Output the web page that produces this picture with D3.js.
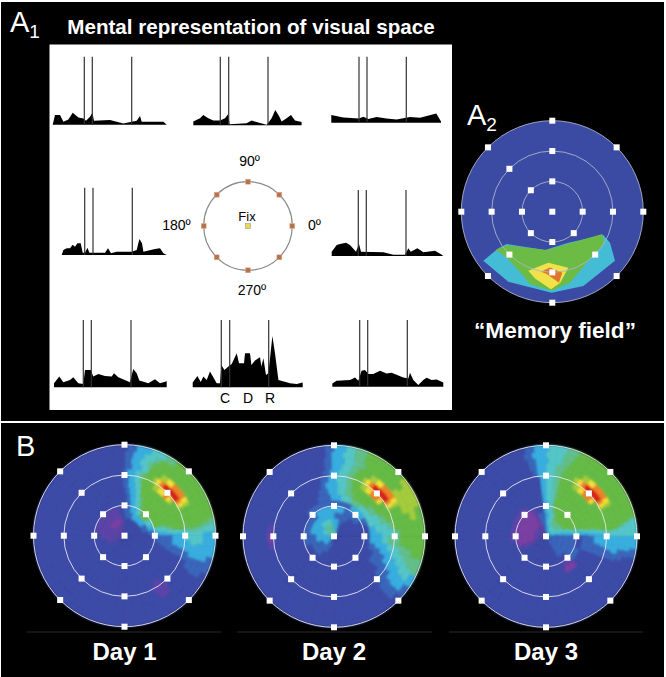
<!DOCTYPE html>
<html>
<head>
<meta charset="utf-8">
<script src="https://cdn.jsdelivr.net/npm/d3@7.9.0/dist/d3.min.js"></script>
<style>
  body { margin: 0; background: #fff; }
  svg { display: block; }
  text { font-family: "Liberation Sans", Arial, sans-serif; }
</style>
</head>
<body>
<svg id="fig" width="666" height="677"></svg>
<script>
// spike density traces, [time, rate], one list per target location
let trace135 = [[0,0],[2.3,9.7],[7.3,9.7],[10.7,3],[15.7,5.3],[20,12],[25.7,7.3],[30.7,6.3],[33.3,4],[37.3,8],[39.7,12],[41.3,4],[57.3,4.7],[70.7,1.3],[79,3],[84,4],[87.3,8.7],[89,3],[110.7,3],[114,0]];
let trace90 = [[0,3.7],[6.7,7],[10,10.3],[15,7],[20,4.7],[26.7,4.7],[31.7,7],[35,11.3],[36.3,1],[53.3,2],[58.3,4.7],[65,2.7],[73.3,0.5],[76,3.7],[78.3,7],[82,15.3],[86,8.7],[88.3,3.7],[93.3,7],[97.7,10.3],[101.7,4.7],[108.3,3.3]];
let trace45 = [[0,7.7],[12,5.3],[27.7,4.3],[32,6],[37,3.7],[45.3,5.7],[55.3,4.3],[65.3,3.3],[78.7,5.7],[88.7,5],[105,9.3],[109.7,1.3]];
let trace180 = [[0,0],[1.7,5],[5,6.7],[8.3,6.7],[11,10.3],[13.3,8.3],[15.7,11.7],[19,11.7],[21,2.3],[23.3,2.3],[25.7,7.3],[27.7,2.3],[43.3,2.3],[46.3,6.7],[49.3,1.7],[55,3.3],[70,3.3],[75,5],[77.7,16],[80.3,11.7],[81.7,3.3],[93.3,6],[98.3,6.7],[101.7,1.7],[105,0]];
let trace0 = [[0,4.3],[5,11],[8.3,12],[14.3,13.3],[18.3,11],[24.3,4.3],[27.3,12],[29.3,4.3],[51.7,3.7],[61.7,1.3],[73.3,1.3],[76.7,7.7],[79,4.3],[85.7,7.7],[91.7,3.7],[103.3,5.3],[111,0.7]];
let trace225 = [[0,4],[5.3,10.7],[9.3,5],[16,7.3],[19.3,10],[24.3,4],[29.3,3.3],[31,17.3],[36.7,17.3],[39.3,10.7],[44.3,13.3],[51,11.3],[57.7,10.7],[60,14],[64.3,10],[76,5],[79.3,18.3],[82.7,14],[85.3,6.7],[94.3,4],[101,8],[106,4],[112.7,6]];
let trace270 = [[0,4.7],[4.7,11.3],[8,5.3],[10.7,10.7],[14,7.3],[17.3,15.7],[24,4],[27.3,4],[28.7,22.3],[31.7,17.3],[35.7,20.7],[39,23.3],[44,34],[46.3,24],[51.3,24],[52.3,34],[57.3,34],[58.7,22.3],[62.3,26.7],[67.3,30],[68.7,20.7],[70.7,29],[73.3,12.3],[75.7,14],[79.7,51.3],[82.3,34],[85.7,7.3],[97.3,4],[104,3.3],[110,4.7]];
let trace315 = [[0,3.3],[4.3,6],[17.7,6.7],[22.7,9.3],[26,6],[29.3,16],[32.7,16.7],[36,12.7],[41,12.7],[47.7,16],[54.3,13.3],[59.3,14],[71,9.3],[76,8.3],[77.7,14],[81,6.7],[86,1.7],[91,6.7],[94.3,9],[99.3,6.7],[104.3,7.3],[111,4.3]];
// cue, delay, response times for each trace
let events135 = [31.6, 39.6, 79];
let events90 = [27, 35.4, 74.7];
let events45 = [27.7, 35.7, 75];
let events180 = [23, 31.3, 70.6];
let events0 = [26.6, 34.6, 74.3];
let events225 = [29.3, 37.3, 77];
let events270 = [28.6, 37, 76];
let events315 = [27.4, 35.4, 75];

let dialAngles = [0, 45, 90, 135, 180, 225, 270, 315];

// A2 memory field contours, x/y in percent of the outer ring
let fieldCyan = [[-75.8,-53.8],[-59.3,-40.3],[-50.2,-35.5],[-8,-42.1],[17.6,-34.1],[56,-25.6],[63.4,-34.1],[68.9,-53.8],[34.1,-81.7],[-0.7,-89],[-48.4,-76.9]];
let fieldGreen = [[-62.3,-42.1],[-50.2,-37],[-6.2,-42.1],[19.4,-34.8],[54.9,-24.5],[57.1,-34.8],[34.1,-60.4],[19.4,-78],[-0.7,-86.8],[-24.5,-79.5],[-37.4,-64.1],[-52,-48.7]];
let fieldYellow = [[-26.4,-64.8],[-4.4,-56],[17.6,-61.5],[8.8,-78],[-1.5,-85.3],[-19,-73.3]];
let fieldOrange = [[-12.5,-65.9],[-2.6,-61.2],[11,-67],[7.3,-78],[-6.2,-68.5]];

// day maps: one row per ring from the centre out, each row is [angle where run starts, level]
let day1Runs = [
  [[100,-1],[220,0]],
  [[95,-1],[215,0]],
  [[95,-1],[105,-2],[150,-1],[210,0]],
  [[10,1],[30,2],[70,1],[90,0],[100,-1],[190,0]],
  [[0,1],[12,2],[22,3],[35,5],[55,3],[65,2],[78,1],[92,0],[105,-1],[175,0]],
  [[0,2],[8,3],[15,5],[60,4],[64,3],[72,2],[80,1],[88,0],[350,1]],
  [[0,2],[6,3],[12,4],[16,5],[64,4],[68,3],[74,2],[82,1],[88,0],[345,1]],
  [[0,2],[4,3],[9,4],[12,5],[70,3],[76,2],[84,1],[90,0],[342,1]],
  [[0,2],[3,3],[7,5],[72,3],[78,2],[86,1],[92,0],[340,1],[350,2]],
  [[0,2],[3,3],[6,5],[35,6],[38,7],[42,8],[46,7],[54,6],[60,5],[74,3],[80,2],[86,1],[92,0],[300,-1],[308,0],[340,1],[348,2]],
  [[0,3],[5,4],[8,5],[26,6],[28,7],[31,8],[34,9],[52,8],[56,7],[60,6],[63,5],[72,4],[76,3],[80,2],[88,1],[92,0],[298,-1],[312,0],[338,1],[346,2],[356,3]],
  [[0,3],[4,4],[7,5],[26,6],[29,7],[33,8],[46,7],[52,6],[58,5],[70,3],[76,2],[84,1],[90,0],[300,-1],[310,0],[332,1],[342,2],[352,3]],
  [[0,3],[5,4],[8,5],[68,4],[72,3],[78,2],[85,1],[90,0],[330,1],[342,2],[354,3]],
  [[0,2],[3,3],[7,4],[10,5],[64,4],[68,3],[76,2],[84,1],[90,0],[330,1],[342,2]],
  [[0,2],[3,3],[8,4],[12,5],[55,4],[62,3],[72,2],[82,1],[88,0],[335,1],[346,2]]
];
let day2Runs = [
  [[60,3],[170,4],[190,2],[230,1],[250,0]],
  [[70,2],[95,4],[140,3],[170,2],[195,2],[230,1],[260,0]],
  [[60,1],[75,2],[100,3],[140,2],[200,1],[250,0]],
  [[50,1],[90,2],[175,1],[235,0]],
  [[30,1],[70,2],[130,1],[200,0]],
  [[20,1],[32,2],[60,1],[140,0]],
  [[0,2],[15,3],[50,4],[65,3],[80,2],[95,1],[115,0],[340,1],[350,2]],
  [[0,2],[5,3],[28,4],[40,5],[66,4],[76,3],[86,2],[98,1],[110,0],[325,1],[345,2]],
  [[0,3],[15,4],[24,5],[70,4],[76,3],[86,2],[100,1],[106,0],[325,1],[340,2],[352,3]],
  [[0,3],[8,4],[15,5],[36,7],[40,8],[50,7],[56,6],[62,5],[72,4],[78,3],[88,2],[96,1],[104,0],[318,1],[332,2],[345,3],[352,4]],
  [[0,4],[6,5],[26,6],[28,7],[31,8],[34,9],[52,8],[56,7],[60,6],[63,5],[72,4],[78,3],[86,2],[94,1],[100,0],[170,-1],[178,-2],[186,-1],[192,0],[315,1],[328,2],[340,3],[350,4]],
  [[0,5],[26,6],[29,7],[33,8],[46,7],[52,6],[58,5],[70,4],[76,3],[84,2],[92,1],[98,0],[312,1],[322,2],[335,3],[345,4],[352,5]],
  [[0,5],[18,6],[38,5],[66,4],[74,3],[82,2],[92,1],[98,0],[312,1],[320,2],[330,3],[340,4],[350,5]],
  [[0,5],[12,6],[35,5],[68,4],[76,3],[84,2],[92,1],[96,0],[312,1],[320,2],[328,3],[336,4],[345,5]],
  [[0,5],[20,6],[40,5],[68,4],[76,3],[82,2],[90,1],[96,0],[318,1],[326,2],[334,4],[345,5]]
];
let day3Runs = [
  [[10,2],[85,1],[105,-1],[205,0],[300,1]],
  [[8,2],[20,3],[75,2],[90,1],[105,-1],[205,0],[300,1]],
  [[5,2],[15,3],[30,4],[70,3],[85,2],[92,1],[108,-1],[120,-2],[200,-1],[212,0],[300,1]],
  [[3,2],[12,3],[20,5],[68,3],[82,2],[92,1],[110,-1],[118,-2],[200,-1],[212,0],[300,1]],
  [[3,2],[8,3],[14,5],[74,4],[78,3],[88,2],[95,0],[112,-1],[120,-2],[198,-1],[206,0],[320,1]],
  [[2,2],[8,3],[12,5],[76,4],[80,3],[88,2],[95,0],[125,-1],[190,0],[302,-1],[318,1],[340,0]],
  [[2,2],[6,3],[10,5],[75,4],[80,3],[90,2],[95,1],[98,0],[300,-2],[318,0],[340,1]],
  [[0,2],[5,3],[9,5],[76,4],[80,3],[90,2],[96,0],[340,1]],
  [[0,2],[4,3],[8,5],[76,4],[82,3],[90,2],[96,0],[340,1],[352,2]],
  [[0,2],[3,3],[6,5],[36,7],[40,8],[50,7],[56,6],[62,5],[76,4],[82,3],[90,2],[96,0],[340,1],[350,2]],
  [[0,3],[5,5],[26,6],[28,7],[31,8],[34,9],[52,8],[56,7],[60,6],[64,5],[76,4],[82,3],[90,2],[98,1],[102,0],[340,1],[348,2]],
  [[0,3],[6,5],[26,6],[29,7],[33,8],[46,7],[52,6],[58,5],[74,4],[82,3],[90,2],[98,1],[104,0],[340,1],[346,2]],
  [[0,3],[8,5],[72,4],[78,3],[88,2],[98,1],[104,0],[342,1],[350,2]],
  [[0,3],[10,5],[70,4],[78,3],[90,2],[100,1],[106,0],[345,1],[350,2]],
  [[0,3],[12,5],[68,4],[76,3],[88,2],[98,1],[104,0],[346,1],[352,2]]
];

let svg = d3.select("#fig");

// two black panels on the white page
svg.append("rect").attr("x", 1).attr("y", 2).attr("width", 663).attr("height", 419).attr("fill", "#000");
svg.append("rect").attr("x", 1).attr("y", 423).attr("width", 663).attr("height", 254).attr("fill", "#000");
svg.append("rect").attr("x", 49.5).attr("y", 44.5).attr("width", 402.5).attr("height", 365.5).attr("fill", "#fff");

function addText(str, x, y, size, opts = {}) {
    return svg.append("text")
        .attr("x", x).attr("y", y)
        .attr("font-size", size)
        .attr("font-weight", opts.weight || "normal")
        .attr("text-anchor", opts.anchor || "middle")
        .attr("fill", opts.fill || "#000")
        .text(str);
}

// panel letters with subscripts
function addLetter(letter, sub, x, y) {
    let t = addText(letter, x, y, 29, { anchor: "start", fill: "#fff" });
    if (sub) t.append("tspan").attr("font-size", 19).attr("dy", 6).text(sub);
}

addLetter("A", "1", 10, 32);
addLetter("A", "2", 467, 125);
addLetter("B", "", 16, 456);

addText("Mental representation of visual space", 251, 34, 20.6, { weight: "bold", fill: "#fff" });
addText("\u201CMemory field\u201D", 555, 338, 22.6, { weight: "bold", fill: "#fff" });

// --- traces ---
let tracePanels = [
    { data: trace135, ev: events135, x: 52.7, base: 124.7, top: 56.7 },
    { data: trace90, ev: events90, x: 193.3, base: 125.3, top: 56.7 },
    { data: trace45, ev: events45, x: 331.3, base: 122.7, top: 56.7 },
    { data: trace180, ev: events180, x: 61.7, base: 255, top: 187.7 },
    { data: trace0, ev: events0, x: 331.7, base: 256, top: 190 },
    { data: trace225, ev: events225, x: 54, base: 387.3, top: 320 },
    { data: trace270, ev: events270, x: 192.7, base: 387.3, top: 320 },
    { data: trace315, ev: events315, x: 332.3, base: 386.7, top: 320 }
];

tracePanels.forEach((p) => {
    let xScale = d3.scaleLinear().domain([0, 114]).range([p.x, p.x + 114]);
    let yScale = d3.scaleLinear().domain([0, 60]).range([p.base, p.base - 60]);
    let area = d3.area()
        .x((d) => xScale(d[0]))
        .y0(yScale(0))
        .y1((d) => yScale(d[1]));
    svg.append("path").datum(p.data).attr("d", area).attr("fill", "#000");
    svg.append("g").selectAll("line").data(p.ev).join("line")
        .attr("x1", (d) => xScale(d)).attr("x2", (d) => xScale(d))
        .attr("y1", p.top).attr("y2", p.base)
        .attr("stroke", "#333").attr("stroke-width", 1.2);
});

addText("C", 225, 403, 14);
addText("D", 248, 403, 14);
addText("R", 270, 403, 14);

// --- target dial in the middle of A1 ---
let dialR = d3.scaleLinear().domain([0, 1]).range([0, 44.3]);
let dial = svg.append("g").attr("transform", "translate(248,226)");
dial.append("circle").attr("r", dialR(1)).attr("fill", "none").attr("stroke", "#8a8a8a").attr("stroke-width", 1.2);
dial.selectAll("rect").data(dialAngles).join("rect")
    .attr("x", (d) => dialR(Math.cos(d * Math.PI / 180)) - 2.5)
    .attr("y", (d) => -dialR(Math.sin(d * Math.PI / 180)) - 2.5)
    .attr("width", 5).attr("height", 5)
    .attr("fill", "#b9724a").attr("stroke", "#d9b9a4").attr("stroke-width", 0.5);
dial.append("rect").attr("x", -2.5).attr("y", -2.5).attr("width", 5).attr("height", 5)
    .attr("fill", "#e9dc4c").attr("stroke", "#999").attr("stroke-width", 0.6);

addText("90\u00BA", 249.5, 165.7, 14);
addText("180\u00BA", 176.5, 230, 14);
addText("0\u00BA", 314.5, 230, 14);
addText("270\u00BA", 252, 295, 14);
addText("Fix", 247, 221, 13);

// --- polar maps ---
let ecc = d3.scaleLinear().domain([0, 3]).range([0, 91]);
let rings = [1, 2, 3];
let ringWidth = 0.2;
let gridAngles = [0, 45, 90, 135, 180, 225, 270, 315];

let levelColor = d3.scaleOrdinal()
    .domain([-2, -1, 0, 1, 2, 3, 4, 5, 6, 7, 8, 9])
    .range(["#7c3fa4", "#5c45a8", "#3c4ba8", "#3a66bb", "#38aee0", "#55c6c8", "#62bf8a", "#66bb46", "#a4cc3e", "#f2e03a", "#ee8228", "#d8201c"]);

let angleScale = d3.scaleLinear().domain([0, 360]).range([Math.PI / 2, Math.PI / 2 - 2 * Math.PI]);
let arc = d3.arc();

function drawMarkers(g, skipUpperRight, ringColor) {
    g.selectAll("circle.ring").data(rings).join("circle")
        .attr("class", "ring")
        .attr("r", (d) => ecc(d))
        .attr("fill", "none").attr("stroke", ringColor).attr("stroke-width", 0.9);
    let pts = [[0, 0]];
    rings.forEach((r) => gridAngles.forEach((a) => {
        if (skipUpperRight && a === 45 && r < 3) return;
        pts.push([a, r]);
    }));
    g.selectAll("rect.mark").data(pts).join("rect")
        .attr("class", "mark")
        .attr("x", (d) => ecc(d[1] * Math.cos(d[0] * Math.PI / 180)) - 3)
        .attr("y", (d) => -ecc(d[1] * Math.sin(d[0] * Math.PI / 180)) - 3)
        .attr("width", 6).attr("height", 6)
        .attr("fill", "#fff");
}

function drawDay(runs, cx, cy, label, lineX) {
    let g = svg.append("g").attr("transform", `translate(${cx},${cy})`);
    let cells = [];
    runs.forEach((row, i) => {
        // whatever comes before the first listed run is background
        let full = row[0][0] > 0 ? [[0, 0], ...row] : row;
        full.forEach((run, j) => {
            let end = j + 1 < full.length ? full[j + 1][0] : 360;
            cells.push({ ring: i, from: run[0], to: end, level: run[1] });
        });
    });
    g.append("g").attr("filter", "url(#soft)").selectAll("path").data(cells).join("path")
        .attr("d", (d) => arc({
            innerRadius: ecc(d.ring * ringWidth),
            outerRadius: ecc((d.ring + 1) * ringWidth),
            startAngle: angleScale(d.to),
            endAngle: angleScale(d.from)
        }))
        .attr("fill", (d) => levelColor(d.level))
        .attr("stroke", (d) => levelColor(d.level))
        .attr("stroke-width", 0.8);
    // faint polar mesh of the map
    g.append("g").selectAll("line").data(d3.range(0, 360, 7.5)).join("line")
        .attr("x2", (d) => ecc(3 * Math.cos(d * Math.PI / 180)))
        .attr("y2", (d) => -ecc(3 * Math.sin(d * Math.PI / 180)))
        .attr("stroke", "#000").attr("stroke-opacity", 0.035).attr("stroke-width", 0.6);
    drawMarkers(g, false, "#e8e8f2");
    svg.append("line").attr("x1", lineX[0]).attr("x2", lineX[1]).attr("y1", 632).attr("y2", 632)
        .attr("stroke", "#2a2a2a").attr("stroke-width", 1);
    addText(label, cx, 660, 24, { weight: "bold", fill: "#fff" });
}

svg.append("defs").append("filter").attr("id", "soft")
    .append("feGaussianBlur").attr("stdDeviation", 1);

drawDay(day1Runs, 124.5, 535.7, "Day 1", [27, 221]);
drawDay(day2Runs, 334, 536.3, "Day 2", [237, 432]);
drawDay(day3Runs, 546, 536.3, "Day 3", [449, 643]);

// --- A2 memory field ---
let a2 = svg.append("g").attr("transform", "translate(552.3,211.7)");
a2.append("circle").attr("r", ecc(3)).attr("fill", "#3b4aa3");
let fieldX = d3.scaleLinear().domain([-100, 100]).range([-ecc(3), ecc(3)]);
let fieldY = d3.scaleLinear().domain([-100, 100]).range([ecc(3), -ecc(3)]);
let fieldLine = d3.line().x((d) => fieldX(d[0])).y((d) => fieldY(d[1])).curve(d3.curveLinearClosed);
[[fieldCyan, "#45bcd6"], [fieldGreen, "#6cbb45"], [fieldYellow, "#f2e24a"], [fieldOrange, "#e2752c"]].forEach(([poly, col]) => {
    a2.append("path").attr("d", fieldLine(poly)).attr("fill", col);
});
drawMarkers(a2, true, "#aeb2cc");
</script>
</body>
</html>
